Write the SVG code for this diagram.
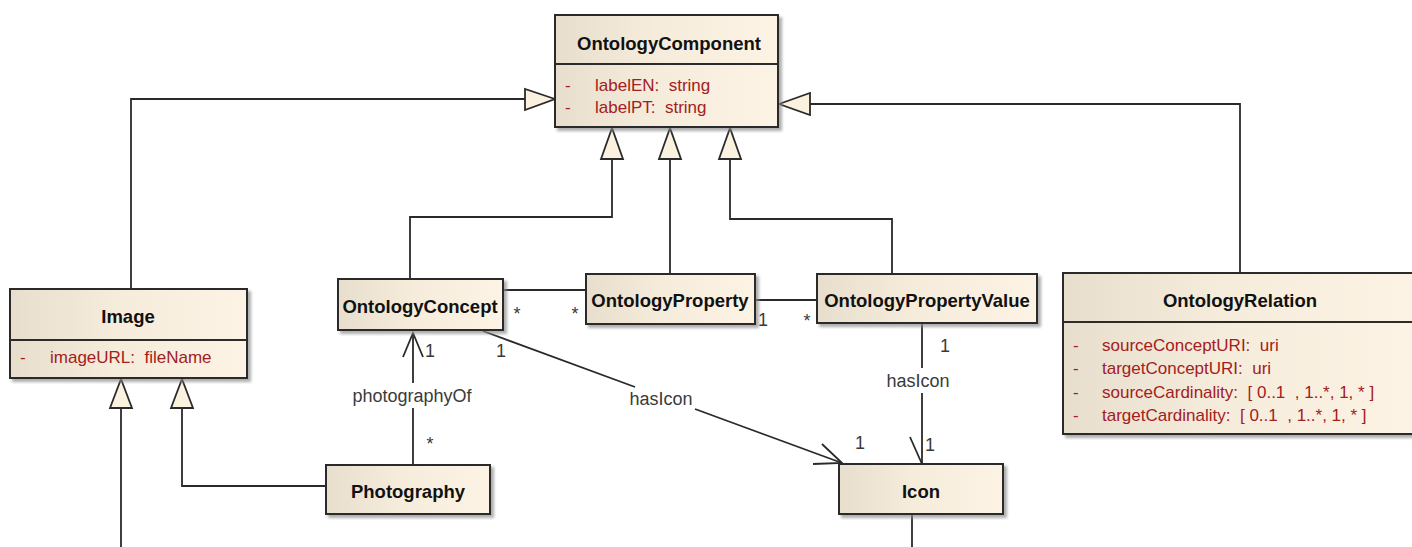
<svg xmlns="http://www.w3.org/2000/svg" width="1412" height="547" viewBox="0 0 1412 547">
  <defs>
    <linearGradient id="boxFill" x1="0" y1="0" x2="1" y2="0">
      <stop offset="0" stop-color="#e8decd"/>
      <stop offset="0.45" stop-color="#f6ecdc"/>
      <stop offset="1" stop-color="#fcf3e4"/>
    </linearGradient>
    <filter id="shadow" x="-5%" y="-5%" width="115%" height="130%">
      <feDropShadow dx="3" dy="3" stdDeviation="1.6" flood-color="#8a8a8a" flood-opacity="0.7"/>
    </filter>
  </defs>
  <style>
    .box { fill: url(#boxFill); stroke: #2b2b2b; stroke-width: 2; filter: url(#shadow); }
    .div { stroke: #2b2b2b; stroke-width: 1.8; }
    .title { font-family: "Liberation Sans", Arial, sans-serif; font-size: 18.5px; font-weight: bold; fill: #111; text-anchor: middle; }
    .attr { font-family: "Liberation Sans", Arial, sans-serif; font-size: 17px; fill: #a3201c; white-space: pre; }
    .lbl { font-family: "Liberation Sans", Arial, sans-serif; font-size: 18px; fill: #3a3a3a; text-anchor: middle; }
    .line { fill: none; stroke: #2a2a2a; stroke-width: 1.8; }
    .tri { fill: #fbf1df; stroke: #2a2a2a; stroke-width: 1.8; stroke-linejoin: miter; }
  </style>
  <rect width="1412" height="547" fill="#ffffff"/>

  <!-- connectors -->
  <g id="connectors">
    <!-- generalizations into OntologyComponent -->
    <polyline class="line" points="131,289 131,99 525,99"/>
    <polygon class="tri" points="555,99 525,89 525,110"/>
    <polyline class="line" points="1240,273 1240,104 810,104"/>
    <polygon class="tri" points="779,104 810,93 810,115"/>
    <polyline class="line" points="410,279 410,217 612,217 612,159"/>
    <polygon class="tri" points="612,128 601,159 623,159"/>
    <line class="line" x1="670" y1="274" x2="670" y2="159"/>
    <polygon class="tri" points="670,128 659,159 681,159"/>
    <polyline class="line" points="892,274 892,219 730,219 730,159"/>
    <polygon class="tri" points="730,128 719,159 741,159"/>

    <!-- generalizations into Image -->
    <line class="line" x1="121" y1="408" x2="121" y2="547"/>
    <polygon class="tri" points="121,379 110,408 132,408"/>
    <polyline class="line" points="326,486 182,486 182,408"/>
    <polygon class="tri" points="182,379 171,408 193,408"/>

    <!-- OntologyConcept - OntologyProperty -->
    <line class="line" x1="503" y1="290" x2="586" y2="290"/>
    <text class="lbl" x="517" y="320">*</text>
    <text class="lbl" x="575" y="320">*</text>

    <!-- OntologyProperty - OntologyPropertyValue -->
    <line class="line" x1="755" y1="300" x2="817" y2="300"/>
    <text class="lbl" x="763" y="326">1</text>
    <text class="lbl" x="807" y="327">*</text>

    <!-- photographyOf -->
    <line class="line" x1="413" y1="465" x2="413" y2="408"/>
    <line class="line" x1="413" y1="383" x2="413" y2="333"/>
    <polyline class="line" points="403,357 413,333 423,357"/>
    <text class="lbl" x="412" y="402">photographyOf</text>
    <text class="lbl" x="430" y="357">1</text>
    <text class="lbl" x="430" y="450">*</text>

    <!-- OntologyConcept hasIcon Icon -->
    <line class="line" x1="483" y1="331" x2="635" y2="387"/>
    <line class="line" x1="695" y1="409" x2="842" y2="463"/>
    <polyline class="line" points="822,444 842,463 813,464"/>
    <text class="lbl" x="661" y="405">hasIcon</text>
    <text class="lbl" x="501" y="357">1</text>
    <text class="lbl" x="860" y="449">1</text>

    <!-- OntologyPropertyValue hasIcon Icon -->
    <line class="line" x1="922" y1="323" x2="922" y2="368"/>
    <line class="line" x1="922" y1="393" x2="922" y2="464"/>
    <line class="line" x1="910" y1="437" x2="922" y2="464"/>
    <text class="lbl" x="918" y="387">hasIcon</text>
    <text class="lbl" x="945" y="352">1</text>
    <text class="lbl" x="930" y="451">1</text>

    <!-- continuation below Icon -->
    <line class="line" x1="912" y1="514" x2="912" y2="547"/>
  </g>

  <!-- classes -->
  <g id="OntologyComponent">
    <rect class="box" x="555" y="15" width="223" height="112"/>
    <line class="div" x1="555" y1="64" x2="778" y2="64"/>
    <text class="title" x="669" y="50">OntologyComponent</text>
    <text class="attr" x="565" y="91">-</text>
    <text class="attr" x="595" y="91">labelEN:  string</text>
    <text class="attr" x="565" y="113">-</text>
    <text class="attr" x="595" y="113">labelPT:  string</text>
  </g>

  <g id="Image">
    <rect class="box" x="10" y="289" width="237" height="89"/>
    <line class="div" x1="10" y1="340" x2="247" y2="340"/>
    <text class="title" x="128" y="323">Image</text>
    <text class="attr" x="20" y="363">-</text>
    <text class="attr" x="50" y="363">imageURL:  fileName</text>
  </g>

  <g id="OntologyConcept">
    <rect class="box" x="338" y="279" width="165" height="51"/>
    <text class="title" x="420" y="313">OntologyConcept</text>
  </g>

  <g id="OntologyProperty">
    <rect class="box" x="586" y="274" width="169" height="50"/>
    <text class="title" x="670" y="307">OntologyProperty</text>
  </g>

  <g id="OntologyPropertyValue">
    <rect class="box" x="817" y="274" width="220" height="49"/>
    <text class="title" x="927" y="307">OntologyPropertyValue</text>
  </g>

  <g id="OntologyRelation">
    <rect class="box" x="1063" y="273" width="356" height="161"/>
    <line class="div" x1="1063" y1="322" x2="1419" y2="322"/>
    <text class="title" x="1240" y="307">OntologyRelation</text>
    <text class="attr" x="1073" y="351">-</text>
    <text class="attr" x="1102" y="351">sourceConceptURI:  uri</text>
    <text class="attr" x="1073" y="374">-</text>
    <text class="attr" x="1102" y="374">targetConceptURI:  uri</text>
    <text class="attr" x="1073" y="398">-</text>
    <text class="attr" x="1102" y="398">sourceCardinality:  [ 0..1  , 1..*, 1, * ]</text>
    <text class="attr" x="1073" y="421">-</text>
    <text class="attr" x="1102" y="421">targetCardinality:  [ 0..1  , 1..*, 1, * ]</text>
  </g>

  <g id="Photography">
    <rect class="box" x="326" y="465" width="164" height="49"/>
    <text class="title" x="408" y="498">Photography</text>
  </g>

  <g id="Icon">
    <rect class="box" x="839" y="464" width="164" height="50"/>
    <text class="title" x="921" y="498">Icon</text>
  </g>
</svg>
